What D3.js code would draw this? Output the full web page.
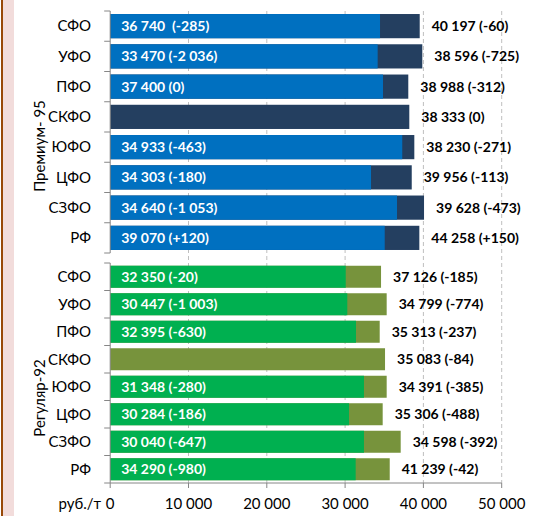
<!DOCTYPE html>
<html>
<head>
<meta charset="utf-8">
<script src="https://cdn.jsdelivr.net/npm/d3@7"></script>
<style>
  body { margin: 0; background: #fff; }
  text { font-family: Lato, "Open Sans", sans-serif; }
</style>
</head>
<body>
<script>

var regions = ["СФО", "УФО", "ПФО", "СКФО", "ЮФО", "ЦФО", "СЗФО", "РФ"];

// Премиум-95: light part (bar length) and full bar length, rub/t
var premBase  = [34460, 34160, 34840, 0, 37300, 33310, 36630, 35060];
var premTotal = [39530, 39860, 38070, 38200, 38840, 38510, 40080, 39480];
var premIn  = ["36 740  (-285)", "33 470 (-2 036)", "37 400 (0)", "", "34 933 (-463)", "34 303 (-180)", "34 640 (-1 053)", "39 070 (+120)"];
var premOut = ["40 197 (-60)", "38 596 (-725)", "38 988 (-312)", "38 333 (0)", "38 230 (-271)", "39 956 (-113)", "39 628 (-473)", "44 258 (+150)"];

// Регуляр-92
var regBase  = [30080, 30280, 31390, 0, 32410, 30500, 32410, 31350];
var regTotal = [34590, 35310, 34420, 35100, 35310, 34800, 37100, 35700];
var regIn  = ["32 350 (-20)", "30 447 (-1 003)", "32 395 (-630)", "", "31 348 (-280)", "30 284 (-186)", "30 040 (-647)", "34 290 (-980)"];
var regOut = ["37 126 (-185)", "34 799 (-774)", "35 313 (-237)", "35 083 (-84)", "34 391 (-385)", "35 306 (-488)", "34 598 (-392)", "41 239 (-42)"];

var tickValues = [0, 10000, 20000, 30000, 40000, 50000];
var tickLabels = ["0", "10 000", "20 000", "30 000", "40 000", "50 000"];

var width = 537, height = 516;

var svg = d3.select("body").append("svg")
    .attr("width", width)
    .attr("height", height);

svg.append("rect").attr("width", width).attr("height", height).attr("fill", "#fff");

// page border decoration on the left
svg.append("rect").attr("x", 3).attr("y", 0).attr("width", 11).attr("height", height).attr("fill", "#f2dcdb");
svg.append("rect").attr("x", 1).attr("y", 0).attr("width", 2).attr("height", height).attr("fill", "#984807");

var x = d3.scaleLinear()
    .domain([0, 50000])
    .range([110.2, 501.7]);

var axisY = 483;
var gridTop = 11;

// dashed gridlines
svg.selectAll(".grid")
    .data(tickValues.slice(1))
  .enter().append("line")
    .attr("class", "grid")
    .attr("x1", function(d) { return x(d); })
    .attr("x2", function(d) { return x(d); })
    .attr("y1", gridTop)
    .attr("y2", axisY)
    .attr("stroke", "#bfbfbf")
    .attr("stroke-dasharray", "4,3");

function panel(top, bottom, base, total, inLabels, outLabels, cLight, cDark, title, titleY) {
  var y = d3.scaleBand()
      .domain(regions)
      .range([top, bottom])
      .paddingInner(0.2)
      .paddingOuter(0.1);

  var g = svg.append("g");

  var rows = g.selectAll(".row")
      .data(regions)
    .enter().append("g")
      .attr("class", "row");

  rows.append("rect")
      .attr("x", x(0))
      .attr("y", function(d) { return y(d); })
      .attr("width", function(d, i) { return x(total[i]) - x(0); })
      .attr("height", y.bandwidth())
      .attr("fill", cDark);

  rows.append("rect")
      .attr("x", x(0))
      .attr("y", function(d) { return y(d); })
      .attr("width", function(d, i) { return x(base[i]) - x(0); })
      .attr("height", y.bandwidth())
      .attr("fill", cLight);

  rows.append("text")
      .attr("x", x(0) + 11)
      .attr("y", function(d) { return y(d) + y.bandwidth() / 2; })
      .attr("dy", ".35em")
      .attr("fill", "#fff")
      .attr("font-weight", "bold")
      .attr("font-size", 14)
      .style("white-space", "pre")
      .text(function(d, i) { return inLabels[i]; });

  rows.append("text")
      .attr("x", function(d, i) { return x(total[i]) + 12; })
      .attr("y", function(d) { return y(d) + y.bandwidth() / 2; })
      .attr("dy", ".35em")
      .attr("fill", "#000")
      .attr("font-weight", "bold")
      .attr("font-size", 14)
      .text(function(d, i) { return outLabels[i]; });

  // category axis
  var edges = regions.map(function(d) { return y(d) - y.step() * y.paddingInner() / 2; });
  edges.push(bottom);
  g.append("line")
      .attr("x1", x(0)).attr("x2", x(0))
      .attr("y1", top).attr("y2", bottom)
      .attr("stroke", "#868686");
  g.selectAll(".tk")
      .data(edges)
    .enter().append("line")
      .attr("x1", x(0) - 6).attr("x2", x(0))
      .attr("y1", function(d) { return d; }).attr("y2", function(d) { return d; })
      .attr("stroke", "#868686");

  g.selectAll(".cat")
      .data(regions)
    .enter().append("text")
      .attr("x", 91)
      .attr("y", function(d) { return y(d) + y.bandwidth() / 2; })
      .attr("dy", ".35em")
      .attr("text-anchor", "end")
      .attr("font-size", 15)
      .attr("fill", "#000")
      .text(function(d) { return d; });

  g.append("text")
      .attr("transform", "translate(40," + titleY + ") rotate(-90)")
      .attr("dy", ".35em")
      .attr("text-anchor", "middle")
      .attr("font-size", 15)
      .attr("fill", "#000")
      .text(title);
}

panel(11, 253, premBase, premTotal, premIn, premOut, "#0070c0", "#243f60", "Премиум- 95", 146);
panel(263, axisY, regBase, regTotal, regIn, regOut, "#00b050", "#77933c", "Регуляр-92", 398);

// value axis
svg.append("line")
    .attr("x1", x(0)).attr("x2", x(50000))
    .attr("y1", axisY).attr("y2", axisY)
    .attr("stroke", "#868686");

svg.selectAll(".xt")
    .data(tickValues)
  .enter().append("line")
    .attr("x1", function(d) { return x(d); })
    .attr("x2", function(d) { return x(d); })
    .attr("y1", axisY).attr("y2", axisY + 5)
    .attr("stroke", "#868686");

svg.selectAll(".xl")
    .data(tickValues)
  .enter().append("text")
    .attr("x", function(d) { return x(d); })
    .attr("y", 509)
    .attr("text-anchor", "middle")
    .attr("font-size", 15)
    .attr("fill", "#000")
    .text(function(d, i) { return tickLabels[i]; });

svg.append("text")
    .attr("x", 101)
    .attr("y", 509)
    .attr("text-anchor", "end")
    .attr("font-size", 15)
    .attr("fill", "#000")
    .text("руб./т");

</script>
</body>
</html>
